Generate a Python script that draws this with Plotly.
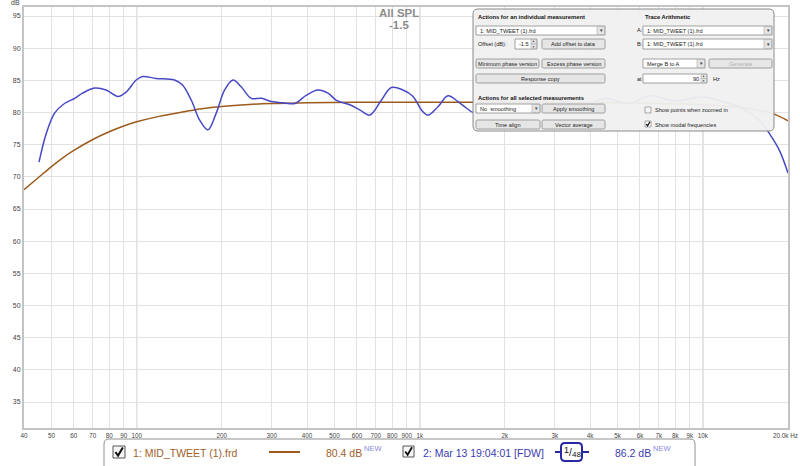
import plotly.graph_objects as go

# ---------------- data ----------------
freq_mid = [40, 45, 50, 55, 60, 70, 80, 90, 100, 120, 150, 170, 200, 250, 300, 400, 600,
            1000, 2000, 5000, 10000, 14000, 17500, 20000]
spl_mid = [68.0, 69.9, 71.6, 73.0, 74.1, 75.8, 77.0, 77.9, 78.55, 79.4, 80.2, 80.6, 80.95,
           81.25, 81.4, 81.5, 81.6, 81.6, 81.6, 81.5, 81.2, 80.7, 79.9, 78.7]

freq_fdw = [45.2, 48, 51.3, 55.6, 60.4, 64.4, 71, 78, 85.9, 91.9, 99.7, 105, 117, 136,
            145, 156, 167, 178.6, 191, 204.6, 219, 234, 254, 276, 299, 329, 362, 398,
            437, 474, 508, 566, 614, 666, 732, 794, 873, 947, 1014, 1070, 1160, 1259,
            1365, 1462, 1550, 1650, 1800, 2000, 2300, 2700, 3200, 3800, 4500, 5500,
            6500, 8000, 10000, 12000, 14000, 16000, 17500, 18700, 20000]
spl_fdw = [72.3, 76.8, 79.9, 81.4, 82.2, 83.0, 83.8, 83.5, 82.5, 83.2, 85.05, 85.6,
           85.3, 85.05, 84.3, 81.9, 78.8, 77.3, 79.9, 83.5, 85.05, 84.0, 82.2, 82.2,
           81.7, 81.5, 81.4, 82.7, 83.5, 83.0, 81.9, 81.2, 80.4, 79.6, 81.9, 83.9, 83.5,
           82.5, 80.4, 79.6, 80.9, 82.6, 81.7, 80.7, 80.0, 81.0, 82.3, 81.5, 80.8, 82.5,
           81.8, 80.9, 82.2, 81.4, 82.6, 81.8, 82.4, 81.6, 80.5, 78.6, 76.2, 74.0, 70.6]

x_tick_vals = [40, 50, 60, 70, 80, 90, 100, 200, 300, 400, 500, 600, 700, 800, 900,
               1000, 2000, 3000, 4000, 5000, 6000, 7000, 8000, 9000, 10000, 20000]
x_tick_text = ["40", "50", "60", "70", "80", "90", "100", "200", "300", "400", "500",
               "600", "700", "800", "900", "1k", "2k", "3k", "4k", "5k", "6k", "7k",
               "8k", "9k", "10k", "20.0k Hz"]
x_major = [100, 1000, 10000]
y_tick_vals = [35, 40, 45, 50, 55, 60, 65, 70, 75, 80, 85, 90, 95]

BROWN = "#9c5a1c"
BLUE = "#4848c4"
FONT = "Liberation Sans, Arial, sans-serif"

# ---------------- geometry helpers (pixel -> paper) ----------------
W, H = 800, 466
L, R, T, B = 24, 788, 7, 428


def px(x):
    return (x - L) / (R - L)


def py(y):
    return (B - y) / (B - T)


shapes = []
ann = []


def rrect(x0, y0, x1, y1, r, fill, line, lw=1.0):
    p = (f"M {px(x0 + r)},{py(y0)} L {px(x1 - r)},{py(y0)} "
         f"Q {px(x1)},{py(y0)} {px(x1)},{py(y0 + r)} L {px(x1)},{py(y1 - r)} "
         f"Q {px(x1)},{py(y1)} {px(x1 - r)},{py(y1)} L {px(x0 + r)},{py(y1)} "
         f"Q {px(x0)},{py(y1)} {px(x0)},{py(y1 - r)} L {px(x0)},{py(y0 + r)} "
         f"Q {px(x0)},{py(y0)} {px(x0 + r)},{py(y0)} Z")
    shapes.append(dict(type="path", xref="paper", yref="paper", path=p,
                       fillcolor=fill, line=dict(color=line, width=lw), layer="above"))


def rect(x0, y0, x1, y1, fill, line, lw=1.0):
    shapes.append(dict(type="rect", xref="paper", yref="paper",
                       x0=px(x0), x1=px(x1), y0=py(y1), y1=py(y0),
                       fillcolor=fill, line=dict(color=line, width=lw), layer="above"))


def seg(x0, y0, x1, y1, color, lw=1.0):
    shapes.append(dict(type="line", xref="paper", yref="paper",
                       x0=px(x0), x1=px(x1), y0=py(y0), y1=py(y1),
                       line=dict(color=color, width=lw), layer="above"))


def txt(x, y, s, size=6, color="#222", anchor="left", bold=False):
    if bold:
        s = f"<b>{s}</b>"
    ann.append(dict(xref="paper", yref="paper", x=px(x), y=py(y), text=s,
                    showarrow=False, xanchor=anchor, yanchor="middle",
                    borderpad=0,
                    font=dict(family=FONT, size=size, color=color)))


def button(x0, y0, x1, y1, label, color="#222"):
    rrect(x0, y0, x1, y1, 1.5, "#e6e6e6", "#8c8c8c", 0.8)
    txt((x0 + x1) / 2, (y0 + y1) / 2 + 0.3, label, 5.6, color, "center")


def dropdown(x0, y0, x1, y1, label):
    rect(x0, y0, x1, y1, "#ffffff", "#8c8c8c", 0.8)
    rect(x1 - 8, y0 + 0.5, x1 - 0.5, y1 - 0.5, "#e4e4e4", "#a8a8a8", 0.6)
    txt(x1 - 4.2, (y0 + y1) / 2 + 0.3, "▼", 4.5, "#444", "center")
    txt(x0 + 3, (y0 + y1) / 2 + 0.3, label, 5.6, "#222")


def spinner(x0, y0, x1, y1, label):
    rect(x0, y0, x1, y1, "#ffffff", "#8c8c8c", 0.8)
    rect(x1 - 6, y0 + 0.5, x1 - 0.5, (y0 + y1) / 2, "#e4e4e4", "#a8a8a8", 0.6)
    rect(x1 - 6, (y0 + y1) / 2, x1 - 0.5, y1 - 0.5, "#e4e4e4", "#a8a8a8", 0.6)
    txt(x1 - 3.2, y0 + 2.4, "▲", 3, "#444", "center")
    txt(x1 - 3.2, y1 - 2.4, "▼", 3, "#444", "center")
    txt(x1 - 7, (y0 + y1) / 2 + 0.3, label, 5.6, "#222", "right")


def checkbox(x0, y0, size, checked, lw=1.0, color="#555"):
    rect(x0, y0, x0 + size, y0 + size, "#f6f6f6", color, lw)
    if checked:
        s = size
        p = (f"M {px(x0 + 0.2 * s)},{py(y0 + 0.5 * s)} L {px(x0 + 0.42 * s)},{py(y0 + 0.8 * s)} "
             f"L {px(x0 + 0.82 * s)},{py(y0 + 0.12 * s)}")
        shapes.append(dict(type="path", xref="paper", yref="paper", path=p,
                           line=dict(color="#111", width=max(1.2, s / 6)), layer="above"))


# ---------------- major vertical grid lines ----------------
for f in x_major:
    shapes.append(dict(type="line", xref="x", yref="paper", x0=f, x1=f, y0=0, y1=1,
                       line=dict(color="#c4c4c4", width=1.3), layer="between"))

# ---------------- floating control panel ----------------
rrect(473, 9, 774, 131, 5, "rgba(240,240,240,0.95)", "#8a8a8a", 1)

txt(477, 17, "Actions for an individual measurement", 5.8, "#111", bold=True)
dropdown(476, 26, 605, 35, "1: MID_TWEET (1).frd")
txt(477, 44, "Offset (dB):", 5.6, "#222")
spinner(515, 39, 537, 49, "-1.5")
button(542, 39, 605, 49, "Add offset to data")
button(476, 59, 539, 68, "Minimum phase version")
button(542, 59, 605, 68, "Excess phase version")
button(476, 74, 605, 83, "Response copy")
txt(477, 98, "Actions for all selected measurements", 5.8, "#111", bold=True)
dropdown(476, 104, 540, 113, "No  smoothing")
button(542, 104, 605, 113, "Apply smoothing")
button(476, 120, 540, 129, "Time align")
button(542, 120, 605, 129, "Vector average")

txt(644, 17, "Trace Arithmetic", 5.8, "#111", bold=True)
txt(636, 30.5, "A:", 5.6, "#222")
dropdown(643, 26, 772, 35, "1: MID_TWEET (1).frd")
txt(636, 44, "B:", 5.6, "#222")
dropdown(643, 39, 772, 49, "1: MID_TWEET (1).frd")
dropdown(643, 59, 705, 68, "Merge B to A")
button(709, 59, 772, 68, "Generate", "#b0b0b0")
txt(636, 78.5, "at", 5.6, "#222")
spinner(643, 74, 707, 83, "90")
txt(712, 78.5, "Hz", 5.6, "#222")
checkbox(645, 107, 6, False, 0.7, "#888")
txt(654, 110, "Show points when zoomed in", 5.6, "#222")
checkbox(645, 121, 6, True, 0.7, "#888")
txt(654, 124.5, "Show modal frequencies", 5.6, "#222")

# ---------------- measurement legend bar ----------------
rrect(104, 439, 695, 475, 5, "#ffffff", "#909090", 1)
checkbox(113, 446, 12, True, 1.0, "#555")
txt(132, 452.5, "1: MID_TWEET (1).frd", 10.5, "#a0602a")
seg(269, 452, 300, 452, BROWN, 2)
txt(363, 452.5, "80.4 dB", 10.5, "#a0602a", "right")
txt(363, 448.5, "NEW", 7.5, "#8a8ae0")
checkbox(403, 446, 11, True, 1.0, "#555")
txt(422, 452.5, "2: Mar 13 19:04:01 [FDW]", 10.5, "#3c3cb0")
seg(555, 452, 561, 452, "#2828a0", 2)
seg(582, 452, 589, 452, "#2828a0", 2)
rrect(561, 443, 582, 461, 4, "#ffffff", "#2828a0", 2)
txt(566, 449.5, "1", 9, "#111", "center")
txt(570.5, 452, "/", 10, "#111", "center")
txt(576.5, 454.5, "48", 8, "#111", "center")
txt(652, 452.5, "86.2 dB", 10.5, "#3c3cb0", "right")
txt(652, 448.5, "NEW", 7.5, "#8a8ae0")

# ---------------- titles ----------------
txt(399, 13, "All SPL", 11.5, "#8c8c8c", "center", bold=True)
txt(399, 25, "-1.5", 11.5, "#8c8c8c", "center", bold=True)
txt(15, 3, "dB", 7, "#444", "center")

# last x tick label is drawn right-aligned at the right edge (as in the original)
axis_tick_text = x_tick_text[:-1] + [""]
ann.append(dict(xref="x", yref="paper", x=4.30103, y=py(435), text=x_tick_text[-1],
                showarrow=False, xanchor="center", yanchor="middle", xshift=-3,
                font=dict(family=FONT, size=6.3, color="#444")))

# ---------------- figure ----------------
fig = go.Figure()
fig.add_trace(go.Scatter(x=freq_mid, y=spl_mid, mode="lines", name="1: MID_TWEET (1).frd",
                         line=dict(color=BROWN, width=1.5, shape="spline", smoothing=1.0),
                         hoverinfo="skip"))
fig.add_trace(go.Scatter(x=freq_fdw, y=spl_fdw, mode="lines", name="2: Mar 13 19:04:01 [FDW]",
                         line=dict(color=BLUE, width=1.5, shape="spline", smoothing=1.0),
                         hoverinfo="skip"))

fig.update_layout(
    template="none",
    width=W, height=H,
    margin=dict(l=L, r=W - R, t=T, b=H - B, autoexpand=False),
    paper_bgcolor="#ffffff", plot_bgcolor="#ffffff",
    showlegend=False,
    font=dict(family=FONT, color="#444"),
    shapes=shapes, annotations=ann,
    xaxis=dict(type="log", range=[1.60206, 4.30103], tickmode="array",
               tickvals=x_tick_vals, ticktext=axis_tick_text, tickangle=0,
               tickfont=dict(size=6.3, color="#444"), showgrid=True,
               gridcolor="#e2e2e2", gridwidth=1, zeroline=False, automargin=False,
               showline=True, linecolor="#c4c4c4", linewidth=2, mirror=True,
               ticks="", fixedrange=True),
    yaxis=dict(range=[30.96, 96.4], tickmode="array", tickvals=y_tick_vals,
               tickfont=dict(size=7, color="#444"), showgrid=True,
               gridcolor="#e2e2e2", gridwidth=1, zeroline=False, automargin=False,
               showline=True, linecolor="#c4c4c4", linewidth=2, mirror=True,
               ticks="", fixedrange=True),
)

fig.write_html("out.html", config={"displayModeBar": False},
               post_script="document.body.style.margin='0';document.body.style.overflow='hidden';")
